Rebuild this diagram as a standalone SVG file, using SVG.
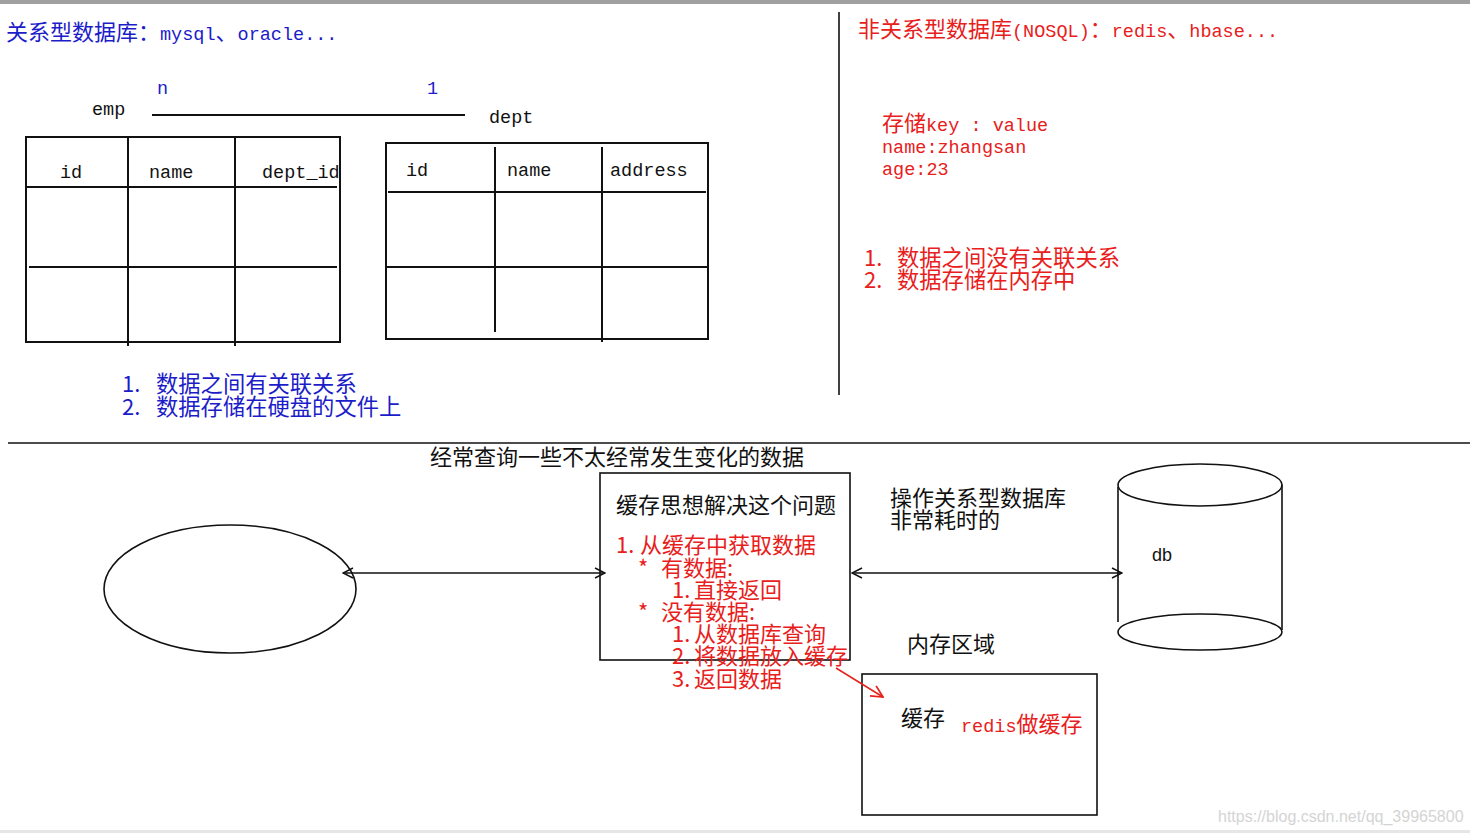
<svg xmlns="http://www.w3.org/2000/svg" width="1470" height="833" viewBox="0 0 1470 833">
<style>
.m{font-family:"Liberation Mono","Noto Sans CJK SC",monospace;font-size:18.5px}
.c{font-family:"Noto Sans CJK SC",sans-serif;font-size:22px}
.s{font-family:"Liberation Sans","Noto Sans CJK SC",sans-serif}
.blue{fill:#1c1cc8}
.red{fill:#e8201c}
.blk{fill:#111}
.ln{stroke:#111;stroke-width:2;fill:none}
.thin{stroke:#111;stroke-width:1.6;fill:none}
</style>
<defs>
<marker id="arr" viewBox="0 0 12 12" refX="11" refY="6" markerWidth="12" markerHeight="12" orient="auto-start-reverse" markerUnits="userSpaceOnUse">
<path d="M1,1 L11,6 L1,11" fill="none" stroke="#111" stroke-width="1.5"/>
</marker>
<marker id="arrR" viewBox="0 0 12 12" refX="11" refY="6" markerWidth="14" markerHeight="14" orient="auto" markerUnits="userSpaceOnUse">
<path d="M1,1 L11,6 L1,11" fill="none" stroke="#e8201c" stroke-width="1.5"/>
</marker>
<clipPath id="clipEmp"><rect x="26" y="137" width="313" height="205"/></clipPath>
</defs>
<rect width="1470" height="833" fill="#fff"/>
<rect x="0" y="0" width="1470" height="4" fill="#a0a0a0"/>
<rect x="0" y="830" width="1470" height="3" fill="#e6e6e6"/>

<g id="title-left">
<text x="6" y="40" class="m blue"><tspan class="c">关系型数据库：</tspan>mysql<tspan class="c">、</tspan>oracle...</text>
</g>

<g id="relation">
<text x="92" y="115" class="m blk" font-size="17">emp</text>
<text x="157" y="94" class="m blue">n</text>
<text x="427" y="94" class="m blue">1</text>
<line x1="152" y1="115" x2="465" y2="115" class="ln"/>
<text x="489" y="123" class="m blk">dept</text>
</g>

<g id="emp-table">
<rect x="26" y="137" width="314" height="205" class="ln"/>
<line x1="128" y1="137" x2="128" y2="346" class="ln"/>
<line x1="235" y1="137" x2="235" y2="346" class="ln"/>
<line x1="26" y1="187" x2="337" y2="187" class="ln"/>
<line x1="29" y1="267" x2="337" y2="267" class="ln"/>
<text x="60" y="178" class="m blk">id</text>
<text x="149" y="178" class="m blk">name</text>
<text x="262" y="178" class="m blk" clip-path="url(#clipEmp)">dept_id</text>
</g>

<g id="dept-table">
<rect x="386" y="143" width="322" height="196" class="ln"/>
<line x1="495" y1="147" x2="495" y2="332" class="ln"/>
<line x1="602" y1="147" x2="602" y2="342" class="ln"/>
<line x1="388" y1="192" x2="706" y2="192" class="ln"/>
<line x1="386" y1="267" x2="708" y2="267" class="ln"/>
<text x="406" y="176" class="m blk">id</text>
<text x="507" y="176" class="m blk">name</text>
<text x="610" y="176" class="m blk">address</text>
</g>

<g id="list-left">
<text x="122" y="392" class="c blue" font-size="20"><tspan>1.</tspan><tspan x="156" font-size="22.3">数据之间有关联关系</tspan></text>
<text x="122" y="415" class="c blue" font-size="20"><tspan>2.</tspan><tspan x="156" font-size="22.3">数据存储在硬盘的文件上</tspan></text>
</g>

<g id="divider">
<line x1="839" y1="12" x2="839" y2="395" class="thin"/>
<line x1="8" y1="443" x2="1470" y2="443" class="thin"/>
</g>

<g id="title-right">
<text x="858" y="37" class="m red"><tspan class="c">非关系型数据库</tspan>(NOSQL)<tspan class="c">：</tspan>redis<tspan class="c">、</tspan>hbase...</text>
</g>

<g id="kv">
<text x="882" y="131" class="m red"><tspan class="c" font-size="20">存储</tspan>key : value</text>
<text x="882" y="153" class="m red">name:zhangsan</text>
<text x="882" y="175" class="m red">age:23</text>
</g>

<g id="list-right">
<text x="864" y="266" class="c red" font-size="20"><tspan>1.</tspan><tspan x="897" font-size="22.3">数据之间没有关联关系</tspan></text>
<text x="864" y="288" class="c red" font-size="20"><tspan>2.</tspan><tspan x="897" font-size="22.3">数据存储在内存中</tspan></text>
</g>

<g id="caption">
<text x="430" y="465" class="c blk" font-size="22.5">经常查询一些不太经常发生变化的数据</text>
</g>

<g id="client">
<ellipse cx="230" cy="589" rx="126" ry="64" class="thin"/>
</g>

<g id="cache-logic">
<rect x="600" y="473" width="250" height="187" class="thin"/>
<text x="616" y="513" class="c blk" font-size="22.4">缓存思想解决这个问题</text>
<text x="616" y="553" class="c red" font-size="22.4"><tspan>1.</tspan><tspan x="640">从缓存中获取数据</tspan></text>
<text x="638" y="576" class="c red" font-size="22.4"><tspan>*</tspan><tspan x="661">有数据:</tspan></text>
<text x="672" y="598" class="c red" font-size="22.4"><tspan>1.</tspan><tspan x="694">直接返回</tspan></text>
<text x="638" y="620" class="c red" font-size="22.4"><tspan>*</tspan><tspan x="661">没有数据:</tspan></text>
<text x="672" y="642" class="c red" font-size="22.4"><tspan>1.</tspan><tspan x="694">从数据库查询</tspan></text>
<text x="672" y="664" class="c red" font-size="22.4"><tspan>2.</tspan><tspan x="694">将数据放入缓存</tspan></text>
<text x="672" y="687" class="c red" font-size="22.4"><tspan>3.</tspan><tspan x="694">返回数据</tspan></text>
</g>

<g id="note">
<text x="890" y="506" class="c blk" font-size="22.4">操作关系型数据库</text>
<text x="890" y="528" class="c blk" font-size="22.4">非常耗时的</text>
</g>

<g id="db">
<ellipse cx="1200" cy="485" rx="82" ry="21" class="thin"/>
<line x1="1118" y1="487" x2="1118" y2="622" class="thin"/>
<line x1="1282" y1="485" x2="1282" y2="630" class="thin"/>
<ellipse cx="1200" cy="632" rx="82" ry="18" class="thin"/>
<text x="1152" y="561" class="s blk" font-size="18">db</text>
</g>

<g id="memory">
<text x="907" y="652" class="c blk" font-size="22.4">内存区域</text>
<rect x="862" y="674" width="235" height="141" class="thin"/>
<text x="901" y="726" class="c blk" font-size="22.4">缓存</text>
<text x="961" y="732" class="m red">redis<tspan class="c" font-size="22.4">做缓存</tspan></text>
</g>

<g id="connectors">
<line x1="343" y1="573" x2="605" y2="573" class="thin" marker-start="url(#arr)" marker-end="url(#arr)"/>
<line x1="852" y1="573" x2="1122" y2="573" class="thin" marker-start="url(#arr)" marker-end="url(#arr)"/>
<line x1="836" y1="668" x2="883" y2="697" stroke="#e8201c" stroke-width="1.5" marker-end="url(#arrR)"/>
</g>

<text x="1218" y="822" class="s" font-size="16" fill="#d4d4d4">https://blog.csdn.net/qq_39965800</text>
</svg>
